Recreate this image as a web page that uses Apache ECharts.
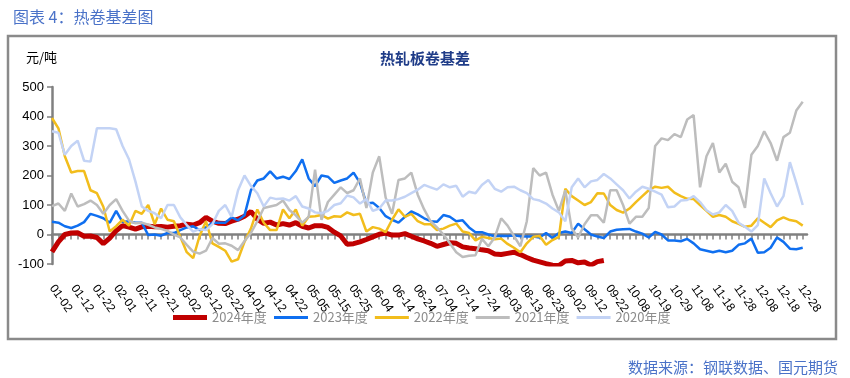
<!DOCTYPE html>
<html>
<head>
<meta charset="utf-8">
<script src="https://cdn.jsdelivr.net/npm/echarts@6/dist/echarts.min.js"></script>
<style>
  html, body { margin: 0; padding: 0; background: #fff; }
  #chart { width: 850px; height: 378px; }
</style>
</head>
<body>
<div id="chart"></div>
<script>
// trading-day calendar, days with no quotes in any year are left out
var skipDays = ['04-04', '05-01', '05-02', '05-03', '10-01', '10-02', '10-03', '10-04', '10-05', '10-06', '10-12'];
var categories = [];
for (var d = new Date(2024, 0, 2); d <= new Date(2024, 11, 31); d.setDate(d.getDate() + 1)) {
    var s = ('0' + (d.getMonth() + 1)).slice(-2) + '-' + ('0' + d.getDate()).slice(-2);
    if (skipDays.indexOf(s) < 0) categories.push(s);
}

// values read every 3rd category
var sampleStep = 3;
var yAxisTicks = [-100, 0, 100, 200, 300, 400, 500];

var y2024 = [-59,-25,0,5,6,-6,-5,-10,-31,-12, 13,30,25,18,26,28,26,27,25,28,
    30,35,32,40,58,45,38,37,45,52, 62,78,52,38,42,32,37,32,40,28,
    22,30,30,24,8,-5,-33,-31,-25,-17, -8,1,5,-2,-2,3,-6,-15,-22,-30,
    -40,-34,-28,-30,-42,-46,-48,-52,-55,-66, -68,-64,-60,-68,-78,-87,-93,-99,-104,-105,
    -90,-88,-96,-93,-104,-92,-88];
var y2023 = [43,40,28,22,30,42,70,63,55,40, 80,42,45,40,40,-2,0,-4,5,5,
    15,24,28,15,24,40,40,40,58,48, 65,150,183,190,214,190,196,188,215,255,
    190,164,200,196,175,183,190,210,175,105, 108,90,62,50,40,60,78,68,55,45,
    43,66,60,45,48,24,8,8,0,-6, -4,-5,-3,-6,-7,-7,-10,5,-12,5,
    10,5,37,18,0,-7,-12,10,16,18, 19,10,3,-10,9,0,-20,-20,-23,-15,
    -30,-50,-55,-60,-55,-60,-55,-35,-30,-14, -62,-60,-45,-10,-25,-48,-50,-45];
var y2022 = [395,360,265,210,215,215,150,140,94,10, 28,50,30,80,70,100,35,88,50,45,
    -8,-60,-80,-5,45,-30,-42,-55,-92,-84, -25,20,85,40,15,15,85,55,85,30,
    60,62,66,54,62,60,75,66,70,10, 25,20,8,50,85,60,70,45,35,35,
    15,20,30,37,10,5,-20,-8,-12,-16, -14,-32,-45,-60,-30,-8,-5,-35,-19,-8,
    155,130,115,100,110,140,139,100,83,74, 88,110,130,150,162,158,162,142,130,121,
    120,100,80,60,66,60,45,36,26,30, 55,40,25,48,58,49,45,30];
var y2021 = [96,105,80,139,95,103,115,100,70,100, 120,80,47,38,40,33,24,19,12,0,
    -10,-35,-58,-65,-55,-12,-31,-30,-38,-53, -22,5,45,90,95,100,115,83,65,40,
    60,220,50,110,135,160,140,150,190,90, 210,265,125,70,185,190,210,135,85,45,
    24,0,-30,-60,-76,-72,-70,-15,-40,-10, 55,30,-5,-40,45,225,200,210,135,80,
    150,20,-10,35,65,65,40,150,150,100, 37,60,60,90,300,326,320,340,330,390,
    405,160,265,310,210,240,179,160,90,270, 300,350,310,250,330,345,420,450];
var y2020 = [350,345,270,300,318,250,247,360,360,360, 357,300,255,180,95,80,72,55,100,100,
    58,32,10,18,15,35,80,100,60,150, 200,165,140,95,125,120,122,115,130,95,
    88,75,72,80,100,106,132,126,105,120, 80,88,115,115,120,128,140,152,168,160,
    152,170,160,165,128,145,140,168,185,155, 145,160,162,150,140,120,115,105,88,75,
    45,160,190,160,180,185,205,190,170,150, 122,145,162,155,145,135,92,95,115,117,
    130,110,82,68,75,100,80,40,26,10, 32,190,140,95,130,245,175,100];

var seriesNames = ['2024年度', '2023年度', '2022年度', '2021年度', '2020年度'];
var seriesValues = [y2024, y2023, y2022, y2021, y2020];
var seriesColors = ['#c00000', '#0f6ff0', '#f2bd1c', '#bdbdbd', '#c3d3f5'];
var seriesWidths = [5, 2.5, 2.5, 2.5, 2.5];

function toData(vals) {
    return vals.map(function (v, i) { return [i * sampleStep, v]; });
}

var legendText = { color: '#8c8c8c', fontSize: 13, fontFamily: 'Noto Sans CJK SC' };

var chart = echarts.init(document.getElementById('chart'));

chart.setOption({
    animation: false,
    textStyle: { fontFamily: 'Liberation Sans, Arial, sans-serif' },
    title: [{
        text: '图表 4：热卷基差图',
        left: 8, top: 4,
        textStyle: { fontFamily: 'Noto Sans CJK SC', fontSize: 16, fontWeight: 'normal', color: '#4a72c8' }
    }, {
        text: '热轧板卷基差',
        left: 420, top: 46, textAlign: 'center',
        textStyle: { fontFamily: 'Noto Sans CJK SC', fontSize: 15, fontWeight: 'bold', color: '#1f3c88' }
    }, {
        text: '元/吨',
        left: 21, top: 46,
        textStyle: { fontFamily: 'Noto Sans CJK SC', fontSize: 13, fontWeight: 'normal', color: '#000' }
    }, {
        text: '数据来源：钢联数据、国元期货',
        right: 7, top: 355,
        textStyle: { fontFamily: 'Noto Sans CJK SC', fontSize: 15, fontWeight: 'normal', color: '#4a72c8' }
    }],
    graphic: [{
        type: 'rect',
        shape: { x: 8, y: 36, width: 828, height: 303 },
        style: { fill: 'none', stroke: '#8a8a8a', lineWidth: 2.5 },
        z: -1
    }],
    legend: [{
        data: [seriesNames[0]],
        left: 173, top: 311, padding: 0,
        icon: 'rect',
        itemWidth: 34, itemHeight: 5, itemGap: 7,
        textStyle: legendText
    }, {
        data: seriesNames.slice(1),
        left: 274, top: 311, padding: 0,
        icon: 'rect',
        itemWidth: 34, itemHeight: 3, itemGap: 7,
        textStyle: legendText
    }],
    grid: { left: 52, right: 43, top: 87, bottom: 114 },
    xAxis: [{
        type: 'category',
        data: categories,
        position: 'top',
        boundaryGap: false,
        axisLine: { onZero: true, lineStyle: { color: '#808080', width: 2.5 } },
        axisTick: { show: true, inside: true, interval: 2, length: 5, lineStyle: { color: '#808080', width: 1.5 } },
        axisLabel: { show: false },
        splitLine: { show: false }
    }, {
        type: 'category',
        data: categories,
        position: 'bottom',
        boundaryGap: false,
        axisLine: { show: false, onZero: false },
        axisTick: { show: false },
        axisLabel: { interval: 9, rotate: -55, margin: 22, fontSize: 12, color: '#000' },
        splitLine: { show: false }
    }],
    yAxis: {
        type: 'value',
        min: yAxisTicks[0],
        max: yAxisTicks[yAxisTicks.length - 1],
        interval: 100,
        axisLine: { show: true, lineStyle: { color: '#808080', width: 2.5 } },
        axisTick: { show: true, length: 5, lineStyle: { color: '#808080', width: 1.5 } },
        axisLabel: { fontSize: 13, color: '#000', margin: 8 },
        splitLine: { show: false }
    },
    series: seriesNames.map(function (name, k) {
        return {
            name: name,
            type: 'line',
            xAxisIndex: 1,
            data: toData(seriesValues[k]),
            symbol: 'none',
            clip: true,
            color: seriesColors[k],
            lineStyle: { color: seriesColors[k], width: seriesWidths[k] }
        };
    })
});
</script>
</body>
</html>
